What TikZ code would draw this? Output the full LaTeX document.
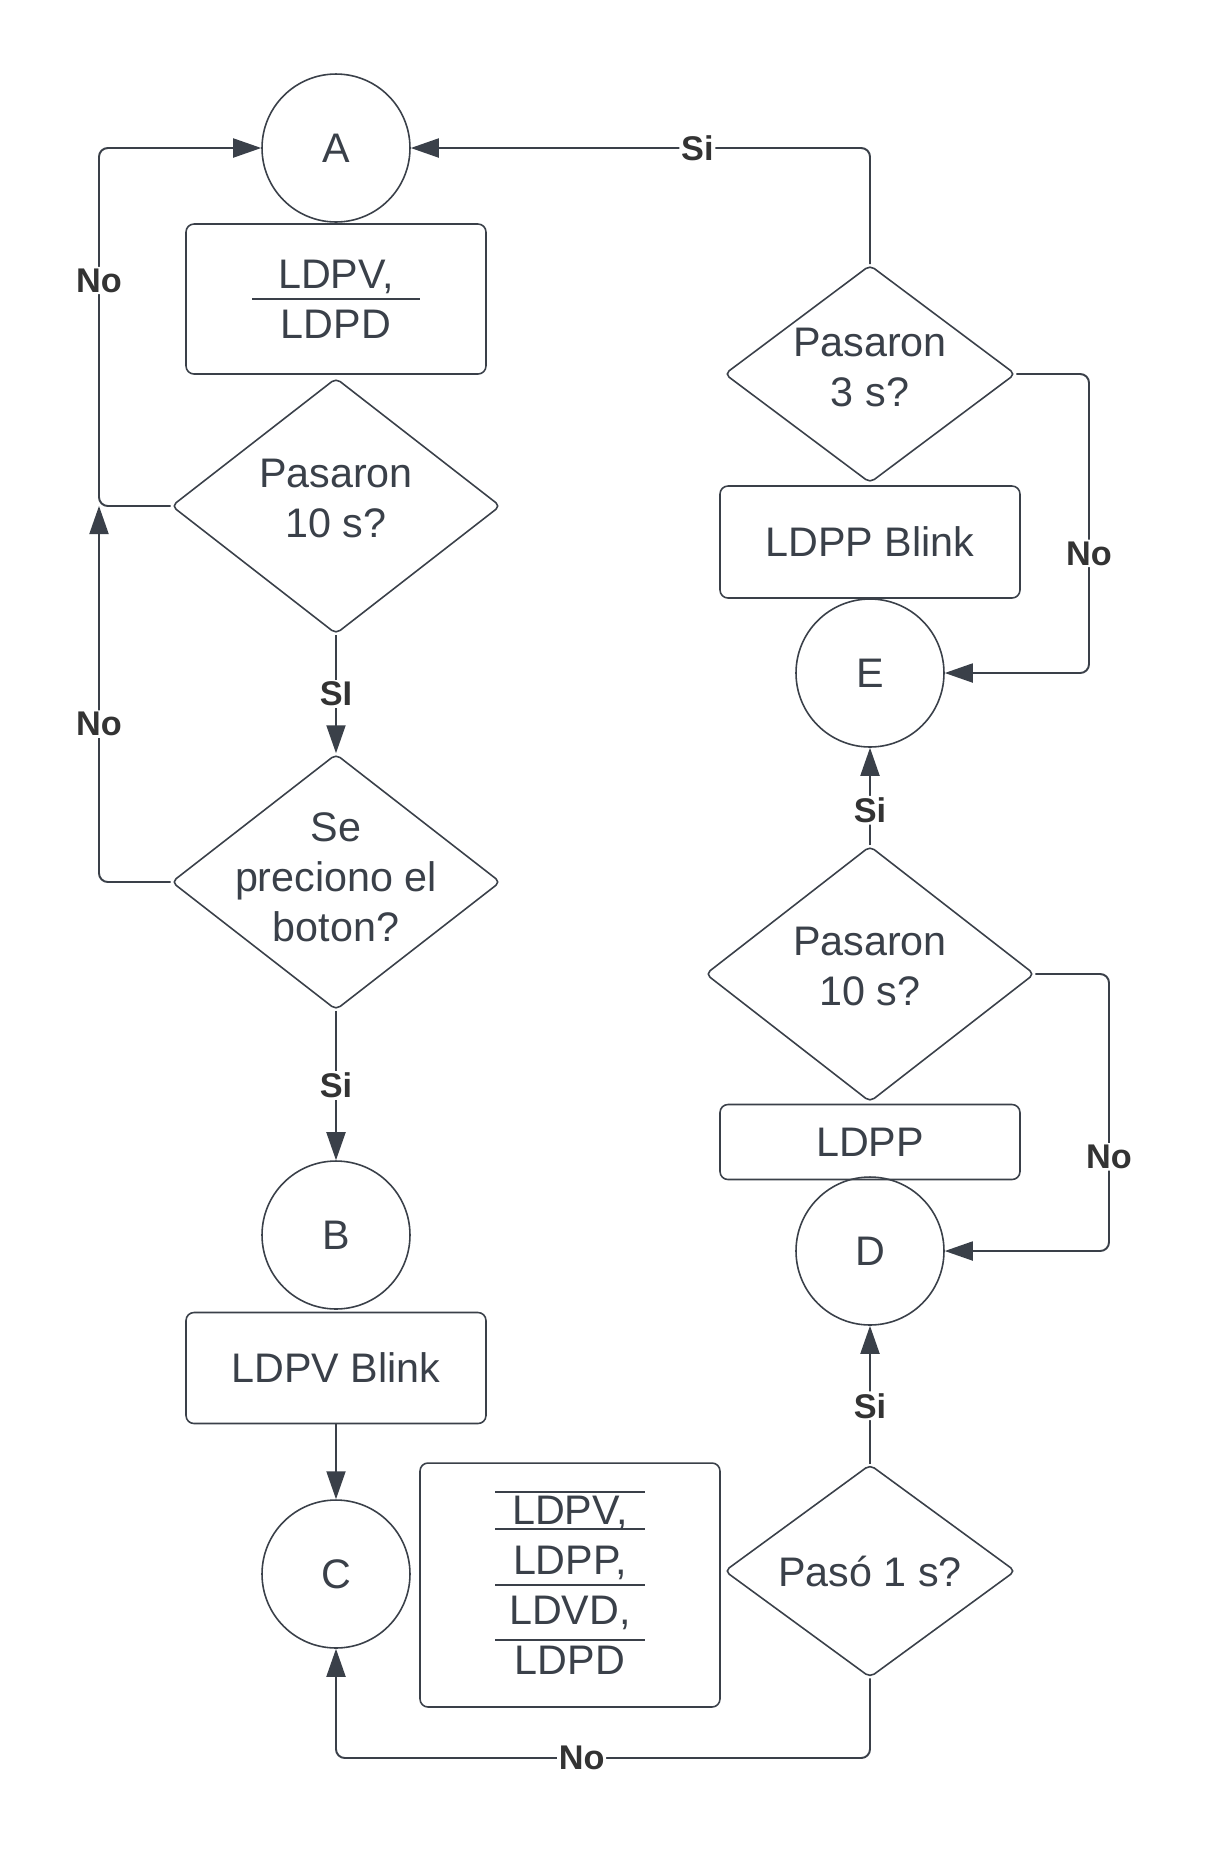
\documentclass[tikz,border=0pt]{standalone}
\usepackage{fontspec}
\setmainfont{Liberation Sans}
\usepackage{tikz}
\usetikzlibrary{shapes.geometric,arrows.meta}
\definecolor{linea}{HTML}{3A4049}
\definecolor{texto}{HTML}{333333}

\begin{document}
\begin{tikzpicture}[x=0.02cm,y=-0.02cm,
  >={Triangle[length=0.56cm,width=0.38cm]},
  every node/.style={font=\fontsize{23.5}{28.5}\selectfont,text=linea},
  circulo/.style={circle,draw=linea,line width=0.9pt,minimum size=2.96cm,inner sep=0pt},
  caja/.style={rectangle,draw=linea,line width=0.9pt,rounded corners=4.5pt,minimum width=6cm,align=center},
  decision/.style={diamond,draw=linea,line width=0.9pt,rounded corners=3pt,inner sep=-1cm,align=center},
  grande/.style={minimum width=6.58cm,minimum height=5.12cm,text depth=0.3cm},
  chico/.style={minimum width=5.82cm,minimum height=4.3cm},
  flecha/.style={->,draw=linea,line width=1.1pt,rounded corners=5pt},
  etiq/.style={fill=white,inner sep=1pt,text=texto,font=\fontsize{19.5}{21}\selectfont\bfseries}]
\useasboundingbox (0,0) rectangle (1208,1854);
\fill[white] (0,0) rectangle (1208,1854);

% columna izquierda
\node[circulo] (A) at (336,148) {A};
\node[caja,minimum height=3cm] (c1) at (336,299) {LDPV,\\LDPD};
\draw[linea,line width=0.9pt] ([shift={(-84,0)}]c1.center) -- ([shift={(84,0)}]c1.center);
\node[decision,grande] (d1) at (336,506) {Pasaron\\10 s?};
\node[decision,grande,text depth=0.2cm] (d2) at (336,882) {Se\\preciono el\\boton?};
\node[circulo] (B) at (336,1235) {B};
\node[caja,minimum height=2.22cm] (c2) at (336,1368) {LDPV Blink};
\node[circulo] (C) at (336,1574) {C};

% caja de abajo
\node[caja,minimum height=4.88cm] (c3) at (570,1585) {LDPV,\\LDPP,\\LDVD,\\LDPD};
\foreach \yy in {-93,-56,0,55}
  \draw[linea,line width=0.9pt] ([shift={(-75,\yy)}]c3.center) -- ([shift={(75,\yy)}]c3.center);

% columna derecha
\node[decision,chico,minimum height=4.26cm] (d3) at (870,1571) {Pasó 1 s?};
\node[circulo] (D) at (870,1251) {D};
\node[caja,minimum height=1.5cm] (c4) at (870,1142) {LDPP};
\node[decision,grande] (d4) at (870,974) {Pasaron\\10 s?};
\node[circulo] (E) at (870,673) {E};
\node[caja,minimum height=2.24cm] (c5) at (870,542) {LDPP Blink};
\node[decision,chico,minimum height=4.36cm,text depth=0.26cm] (d5) at (870,374) {Pasaron\\3 s?};

% esquinas de los conectores
\coordinate (n1) at (99,506);
\coordinate (n2) at (99,148);
\coordinate (n3) at (870,1758);
\coordinate (n4) at (336,1758);
\coordinate (n5) at (1109,974);
\coordinate (n6) at (1109,1251);
\coordinate (n7) at (1089,374);
\coordinate (n8) at (1089,673);
\coordinate (n9) at (870,148);

\draw[flecha] (d1.west) -- (n1) -- node[etiq,pos=0.63]{No} (n2) -- (A.west);
\draw[flecha] (d2.west) -| node[etiq,pos=0.71]{No} (n1);
\draw[flecha] (d1.south) -- node[etiq]{SI} (d2.north);
\draw[flecha] (d2.south) -- node[etiq]{Si} (B.north);
\draw[flecha] (c2.south) -- (C.north);
\draw[flecha] (d3.south) -- (n3) -- node[etiq,pos=0.54]{No} (n4) -- (C.south);
\draw[flecha] (d3.north) -- node[etiq,pos=0.42]{Si} (D.south);
\draw[flecha] (d4.east) -- (n5) -- node[etiq,pos=0.66]{No} (n6) -- (D.east);
\draw[flecha] (d4.north) -- node[etiq,pos=0.36]{Si} (E.south);
\draw[flecha] (d5.east) -- (n7) -- node[etiq,pos=0.6]{No} (n8) -- (E.east);
\draw[flecha] (d5.north) -- (n9) -- node[etiq,pos=0.376]{Si} (A.east);
\end{tikzpicture}
\end{document}
